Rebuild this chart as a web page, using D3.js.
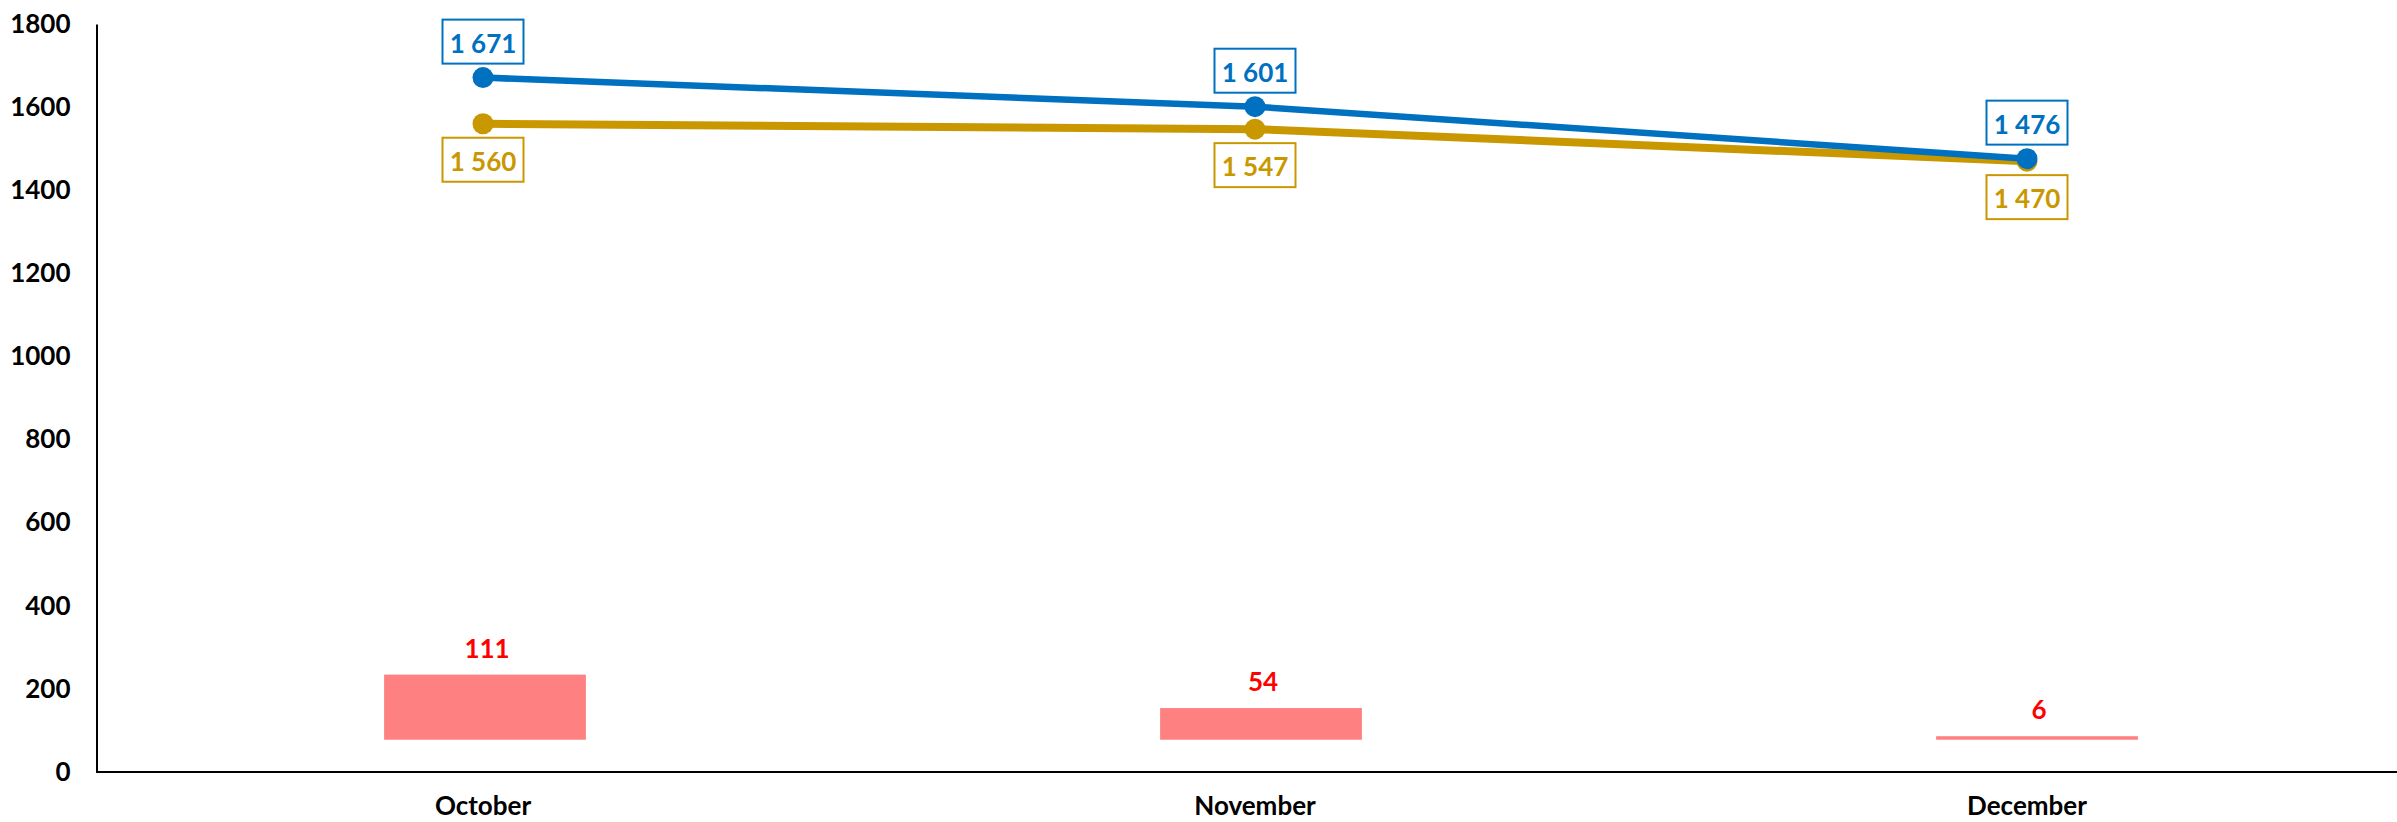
<!DOCTYPE html>
<html>
<head>
<meta charset="utf-8">
<script src="https://cdn.jsdelivr.net/npm/d3@7"></script>
<style>
  html, body { margin: 0; padding: 0; background: #fff; }
  svg { display: block; }
  text { font-family: Lato, "Open Sans", sans-serif; font-weight: 700; }
</style>
</head>
<body>
<svg id="chart" width="2397" height="822"></svg>
<script>
// ---- data ----
const categories = ["October", "November", "December"];
const seriesBlue = [1671, 1601, 1476];
const seriesGold = [1560, 1547, 1470];
const difference = [111, 54, 6];
const yTickValues = [0, 200, 400, 600, 800, 1000, 1200, 1400, 1600, 1800];

(function () {
// ---- setup ----
const W = 2397, H = 822;
const svg = d3.select("#chart");
const plotLeft = 97, plotTop = 24, plotBottom = 772;

const x = d3.scaleBand().domain(categories).range([plotLeft, 2413]).padding(0);
const xBars = d3.scaleBand().domain(categories).range([plotLeft, 2425]).paddingInner(0.74).paddingOuter(0.37);
const y = d3.scaleLinear().domain([0, 1800]).range([plotBottom, plotTop]);
const y2 = d3.scaleLinear().domain([-55, 1220]).range([plotBottom, plotTop]);

const loc = d3.formatLocale({ decimal: ",", thousands: " ", grouping: [3], currency: ["", ""] });
const fmt = loc.format(",d");

const BLUE = "#0070C0", GOLD = "#C99800", BAR = "#FF8080", RED = "#FF0000";
const FS = 26;

// ---- axes ----
const yAxis = d3.axisLeft(y).tickValues(yTickValues).tickSize(0).tickPadding(26).tickFormat(d3.format("d"));
const gy = svg.append("g").attr("transform", `translate(${plotLeft - 0.5},0)`).call(yAxis);
gy.select(".domain").attr("stroke", "#000").attr("stroke-width", 2);
gy.selectAll("text").attr("font-size", FS).attr("fill", "#000")
  .attr("font-family", "Lato, 'Open Sans', sans-serif").attr("font-weight", 700);

const xAxis = d3.axisBottom(x).tickSize(0).tickPadding(25);
const gx = svg.append("g").attr("transform", `translate(0,${plotBottom})`).call(xAxis);
gx.select(".domain").attr("d", `M${plotLeft - 1},0H${W}`).attr("stroke", "#000").attr("stroke-width", 2);
gx.selectAll("text").attr("font-size", FS).attr("fill", "#000")
  .attr("font-family", "Lato, 'Open Sans', sans-serif").attr("font-weight", 700);

// ---- floating difference bars (secondary scale) ----
const barData = categories.map((c, i) => ({ c, v: difference[i] }));
svg.append("g").selectAll("rect").data(barData).join("rect")
  .attr("x", d => xBars(d.c))
  .attr("width", xBars.bandwidth())
  .attr("y", d => y2(d.v))
  .attr("height", d => y2(0) - y2(d.v))
  .attr("fill", BAR);

svg.append("g").selectAll("text").data(barData).join("text")
  .attr("x", d => xBars(d.c) + xBars.bandwidth() / 2 + 2)
  .attr("y", d => y2(d.v) - 27)
  .attr("text-anchor", "middle")
  .attr("dominant-baseline", "central")
  .attr("font-size", FS)
  .attr("fill", RED)
  .text(d => d.v);

// ---- lines ----
const cx = c => x(c) + x.bandwidth() / 2;
function drawSeries(vals, color, width) {
  const pts = categories.map((c, i) => ({ c, v: vals[i] }));
  const line = d3.line().x(d => cx(d.c)).y(d => y(d.v));
  const g = svg.append("g");
  g.append("path").datum(pts).attr("d", line)
    .attr("fill", "none").attr("stroke", color).attr("stroke-width", width)
    .attr("stroke-linejoin", "round");
  g.selectAll("circle").data(pts).join("circle")
    .attr("cx", d => cx(d.c)).attr("cy", d => y(d.v)).attr("r", 10.5)
    .attr("fill", color);
  return pts;
}
const goldPts = drawSeries(seriesGold, GOLD, 8);
const bluePts = drawSeries(seriesBlue, BLUE, 6.5);

function drawLabels(pts, color, dir) {
  const g = svg.append("g");
  const bw = 81, bh = 44;
  const lg = g.selectAll("g").data(pts).join("g")
    .attr("transform", d => `translate(${cx(d.c)},${y(d.v) + dir * 36})`);
  lg.append("rect")
    .attr("x", -bw / 2).attr("y", -bh / 2).attr("width", bw).attr("height", bh)
    .attr("fill", "#fff").attr("stroke", color).attr("stroke-width", 2);
  lg.append("text")
    .attr("text-anchor", "middle").attr("dominant-baseline", "central")
    .attr("y", 1)
    .attr("font-size", FS).attr("fill", color)
    .text(d => fmt(d.v));
}
drawLabels(goldPts, GOLD, 1);
drawLabels(bluePts, BLUE, -1);
})();
</script>
</body>
</html>
